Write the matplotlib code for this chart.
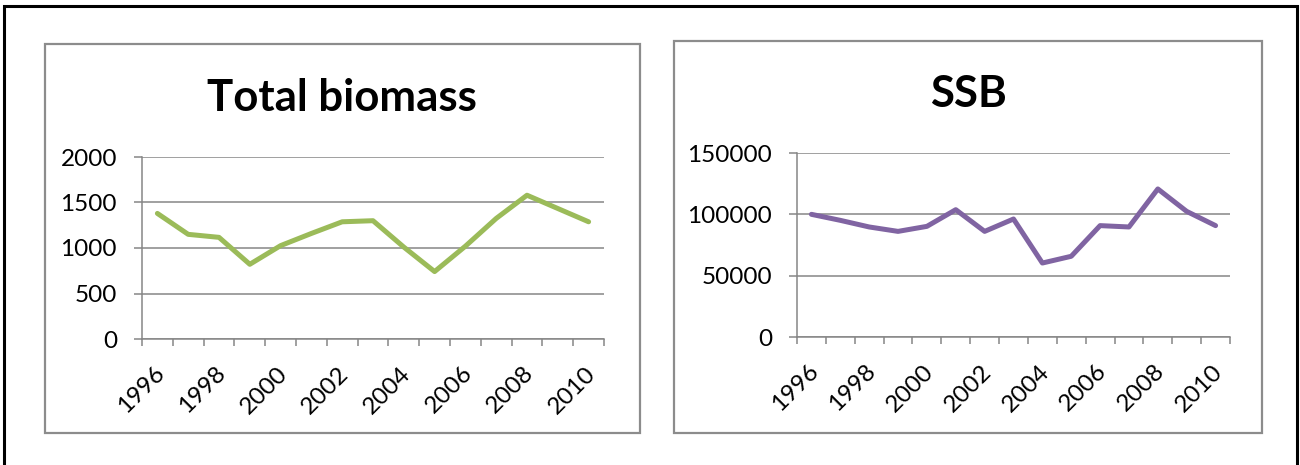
import matplotlib
matplotlib.use("Agg")
import matplotlib.pyplot as plt
from matplotlib.patches import Rectangle
from matplotlib.transforms import ScaledTranslation

years = [1996, 1997, 1998, 1999, 2000, 2001, 2002, 2003, 2004, 2005, 2006, 2007, 2008, 2009, 2010]
total_biomass = [1380, 1150, 1117, 821, 1026, 1160, 1288, 1300, 1010, 741, 1020, 1325, 1580, 1434, 1288]
ssb = [100000, 95100, 89700, 86100, 90200, 103800, 86100, 96200, 60300, 65800, 90800, 89700, 120700, 102400, 90800]
titles = ["Total biomass", "SSB"]
left_yticks = [0, 500, 1000, 1500, 2000]
right_yticks = [0, 50000, 100000, 150000]

W, H = 1300, 465
plt.rcParams['font.family'] = ['Lato', 'DejaVu Sans']
fig = plt.figure(figsize=(W / 100, H / 100), dpi=100)

GRAY = '#868686'
BOX = '#8c8c8c'

def fx(px):
    return px / W

def fy(py):
    return 1 - py / H

# outer black frame
fig.patches.append(Rectangle((fx(4), fy(500)), fx(1297) - fx(4), fy(6) - fy(500),
                             transform=fig.transFigure, fill=False, edgecolor='black',
                             linewidth=2.2, zorder=0))
# chart boxes
for (x0, y0, x1, y1) in [(45, 44, 640, 433), (674, 41, 1262, 433)]:
    fig.patches.append(Rectangle((fx(x0), fy(y1)), fx(x1) - fx(x0), fy(y0) - fy(y1),
                                 transform=fig.transFigure, fill=False, edgecolor=BOX,
                                 linewidth=1.6, zorder=0))

def make_axes(rect_px, values, yticks, color, title, title_xy):
    x0, y0, x1, y1 = rect_px
    ax = fig.add_axes([fx(x0), fy(y1), fx(x1) - fx(x0), fy(y0) - fy(y1)])
    n = len(years)
    xs = list(range(n))
    ax.plot(xs, values, color=color, linewidth=3.6, solid_capstyle='round',
            solid_joinstyle='round', zorder=3)
    ax.set_xlim(-0.5, n - 0.5)
    ax.set_ylim(yticks[0], yticks[-1])
    ax.set_yticks(yticks)
    ax.set_yticklabels([str(v) for v in yticks])
    ax.yaxis.grid(True, color=GRAY, linewidth=1.1)
    ax.set_axisbelow(True)
    # category boundary ticks
    ax.set_xticks([i - 0.5 for i in range(n + 1)])
    ax.set_xticklabels([])
    ax.set_xticks(xs[::2], minor=True)
    ax.set_xticklabels([str(years[i]) for i in xs[::2]], minor=True,
                       rotation=45, ha='right', va='top', rotation_mode='anchor')
    ax.tick_params(axis='x', which='major', length=5, width=1.1, color=GRAY, direction='out')
    ax.tick_params(axis='x', which='minor', length=0, pad=17, labelsize=17.5)
    ax.tick_params(axis='y', length=6, width=1.1, color=GRAY, pad=12, labelsize=17.5)
    shift = ScaledTranslation(-4 / 100, 0, fig.dpi_scale_trans)
    for lab in ax.get_xticklabels(minor=True):
        lab.set_transform(lab.get_transform() + shift)
    for s in ['top', 'right']:
        ax.spines[s].set_visible(False)
    for s in ['left', 'bottom']:
        ax.spines[s].set_color(GRAY)
        ax.spines[s].set_linewidth(1.1)
    fig.text(fx(title_xy[0]), fy(title_xy[1]), title, ha='center', va='baseline',
             fontsize=31.5, fontweight='bold')
    return ax

make_axes((142, 157, 604, 339), total_biomass, left_yticks, '#9BBB59', titles[0], (342, 111))
make_axes((797, 153, 1230, 337), ssb, right_yticks, '#8064A2', titles[1], (968, 107))

fig.savefig('out.png', dpi=100, facecolor='white')
